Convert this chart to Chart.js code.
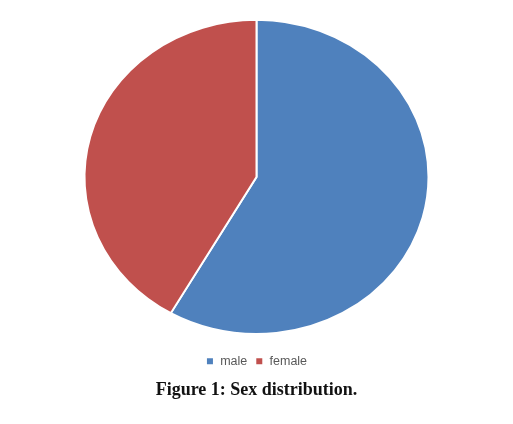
<!DOCTYPE html>
<html>
<head>
<meta charset="utf-8">
<script src="https://cdn.jsdelivr.net/npm/chart.js@4/dist/chart.umd.min.js"></script>
<style>
  html, body { margin: 0; padding: 0; background: #fff; }
  #wrap { width: 513px; height: 424px; }
</style>
</head>
<body>
<div id="wrap"><canvas id="sexChart" width="513" height="424"></canvas></div>
<script>
// --- data ---
const categories = ['male', 'female'];
const shares = [58.3, 41.7];
const sliceColors = ['#4F81BD', '#C0504D'];
const figureTitle = 'Figure 1: Sex distribution.';

// the original pie is an ellipse (wider than tall) -> squash the arcs only
const squashY = 157 / 172;
const ellipsePlugin = {
    id: 'ellipse',
    beforeDatasetsDraw(chart) {
        const ctx = chart.ctx;
        const area = chart.chartArea;
        const cy = (area.top + area.bottom) / 2;
        ctx.save();
        ctx.translate(0, cy);
        ctx.scale(1, squashY);
        ctx.translate(0, -cy);
    },
    afterDatasetsDraw(chart) {
        chart.ctx.restore();
    }
};

const ctx = document.getElementById('sexChart').getContext('2d');
new Chart(ctx, {
    type: 'pie',
    data: {
        labels: categories,
        datasets: [{
            data: shares,
            backgroundColor: sliceColors,
            borderColor: '#ffffff',
            borderWidth: 2,
            radius: 172
        }]
    },
    options: {
        responsive: false,
        animation: false,
        layout: { padding: { top: 7, bottom: 23, left: 0, right: 0 } },
        plugins: {
            tooltip: { enabled: false },
            legend: {
                position: 'bottom',
                labels: {
                    boxWidth: 8,
                    boxHeight: 8,
                    padding: 8,
                    color: '#595959',
                    font: { family: '"Liberation Sans", Arial, sans-serif', size: 12.5 }
                }
            },
            title: {
                display: true,
                position: 'bottom',
                text: figureTitle,
                color: '#111111',
                padding: { top: 2, bottom: 0 },
                font: { family: '"Liberation Serif", "DejaVu Serif", serif', size: 18, weight: 'bold' }
            }
        }
    },
    plugins: [ellipsePlugin]
});
</script>
</body>
</html>
